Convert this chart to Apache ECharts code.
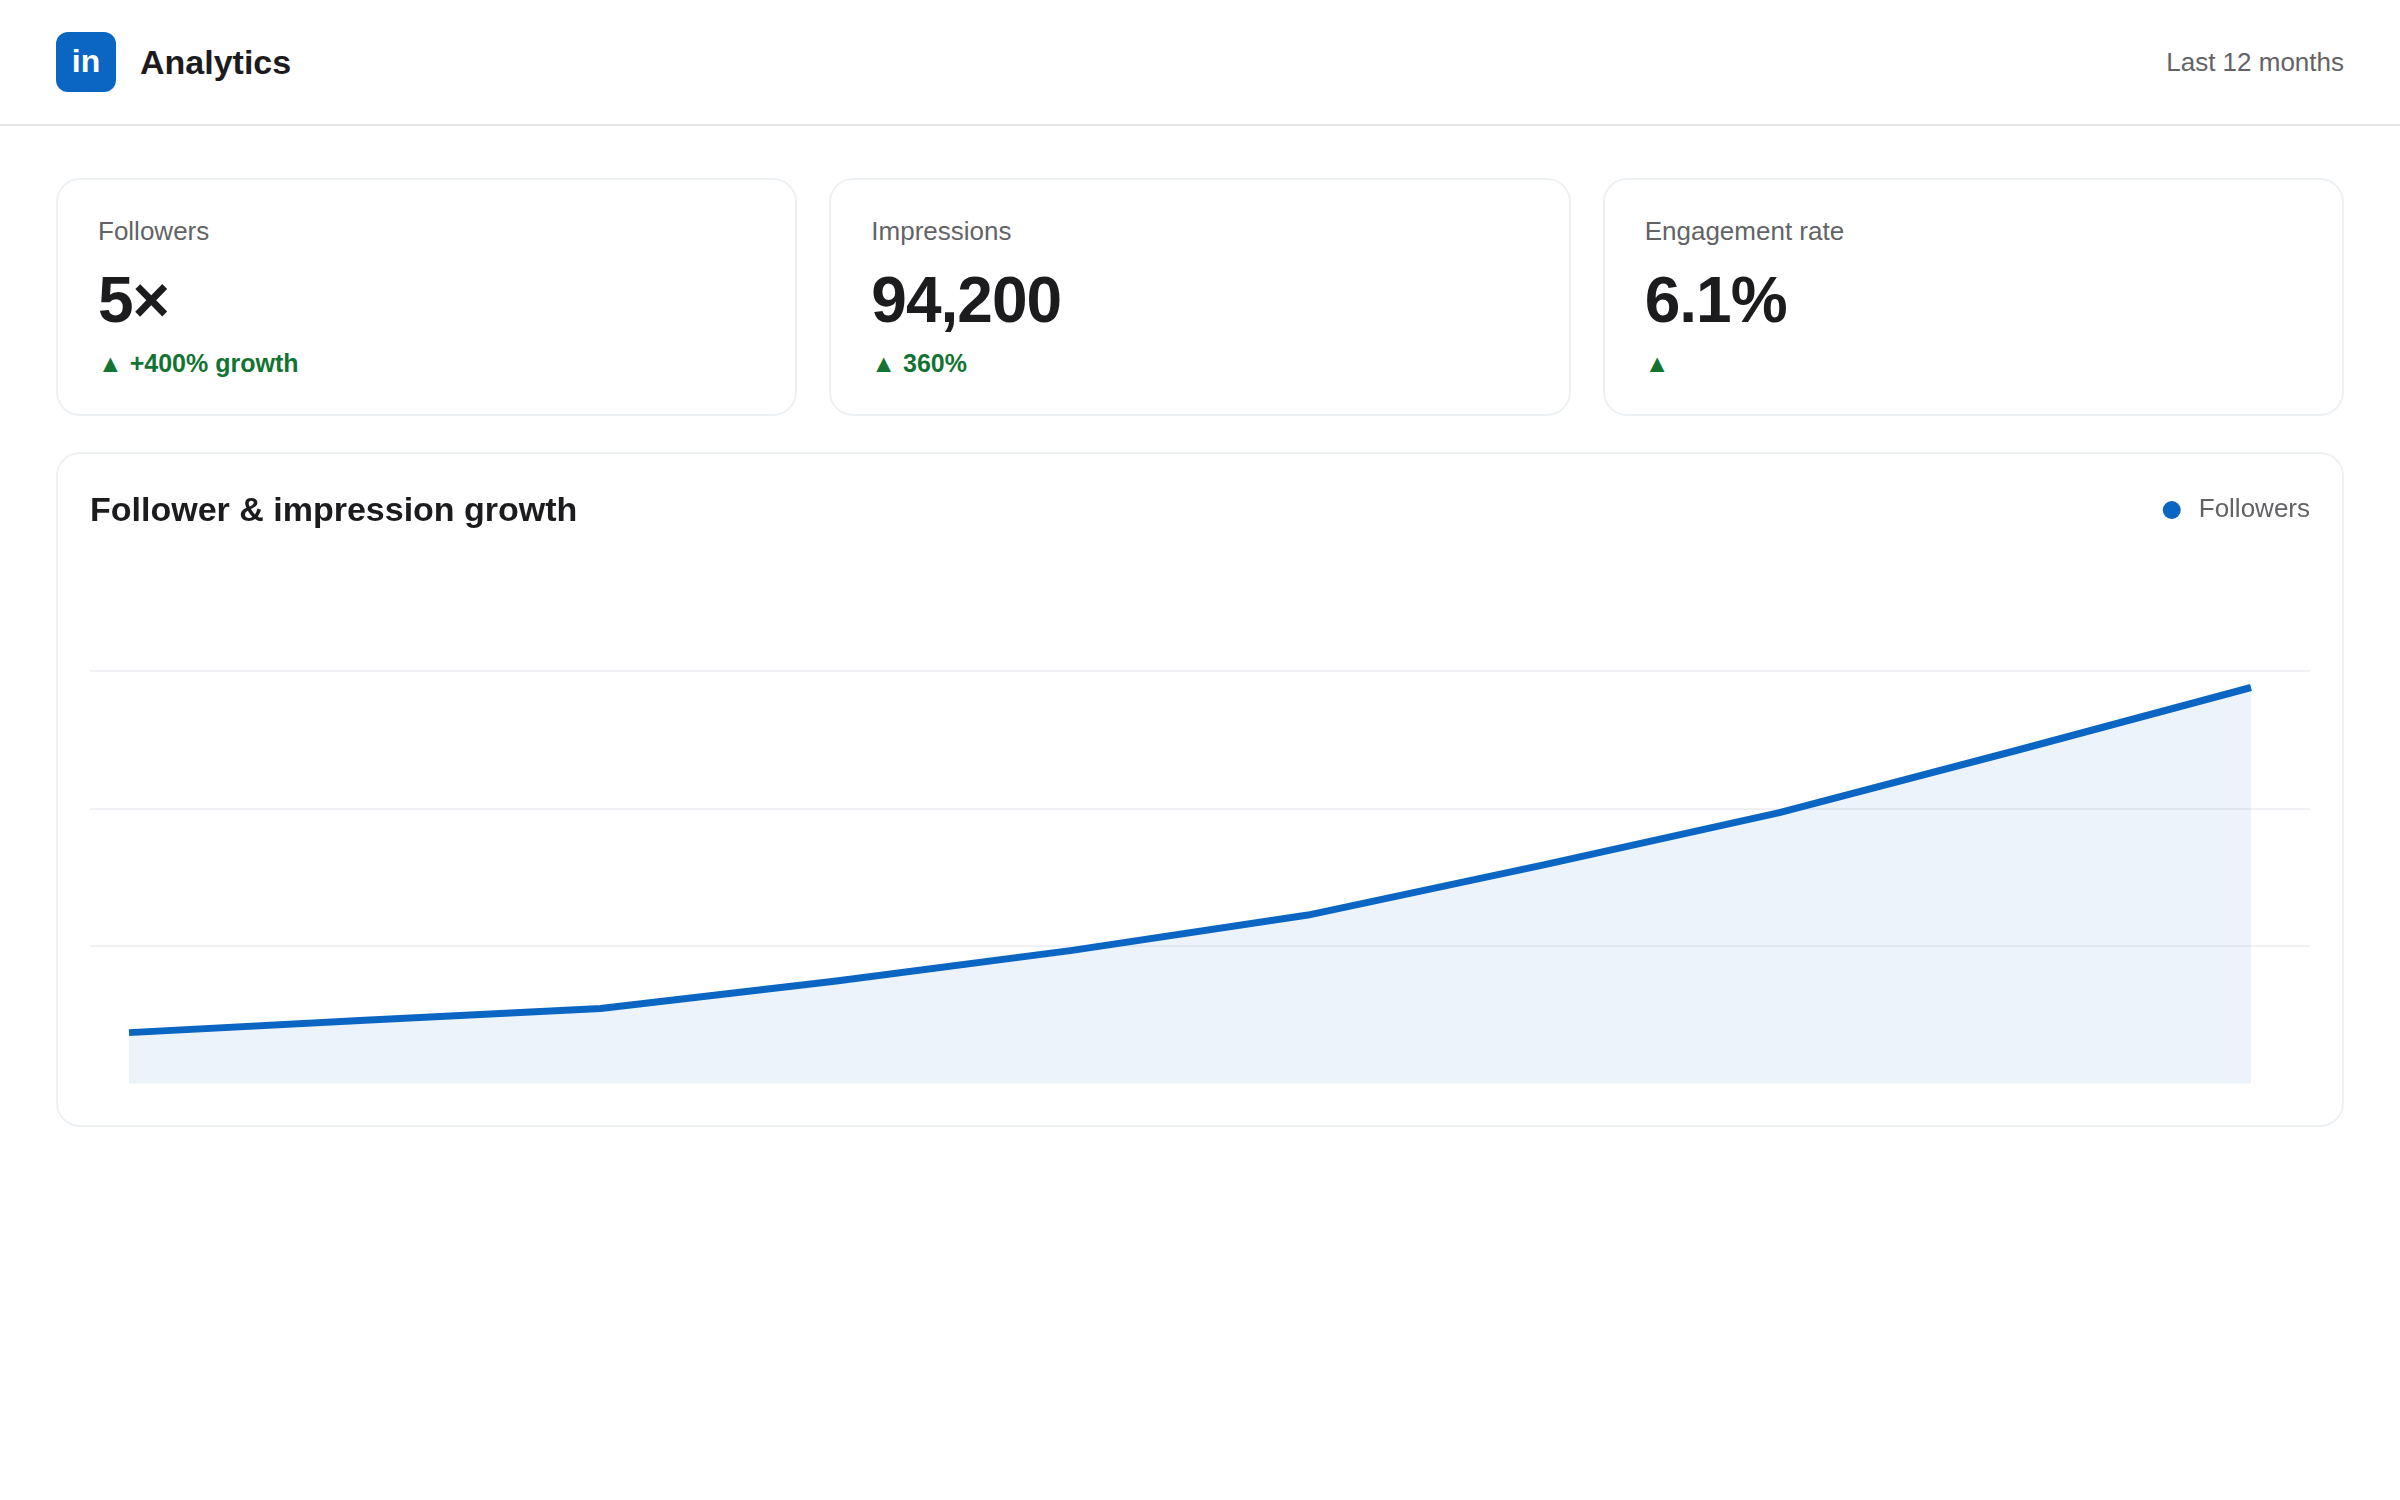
<!DOCTYPE html>
<html lang="en">
<head>
<meta charset="utf-8">
<title>Analytics</title>
<script src="https://cdn.jsdelivr.net/npm/echarts@6/dist/echarts.min.js"></script>
<style>
  * { box-sizing: border-box; margin: 0; padding: 0; }
  html, body { width: 2400px; height: 1500px; background: #fff; overflow: hidden; }
  body { font-family: "Liberation Sans", Arial, sans-serif; color: #1c1c1e; position: relative; }
  header { position: absolute; left: 0; top: 0; width: 2400px; height: 126px; border-bottom: 2px solid #e5e5ea; }
  .logo { position: absolute; left: 56px; top: 32px; width: 60px; height: 60px; border-radius: 12px;
          background: #0a66c2; color: #fff; font-weight: 700; font-size: 32px; line-height: 58px; text-align: center; }
  .brand { position: absolute; left: 140px; top: 42px; font-size: 34px; line-height: 40px; font-weight: 700; }
  .period { position: absolute; right: 56px; top: 47px; font-size: 26px; line-height: 30px; color: #636366; }
  .kpi { position: absolute; top: 178px; width: 741.33px; height: 238px; background: #fff;
         border: 2px solid #eef1f4; border-radius: 24px; }
  .kpi .label { position: absolute; left: 40px; top: 36px; font-size: 26px; line-height: 30px; color: #636366; white-space: nowrap; }
  .kpi .value { position: absolute; left: 40px; top: 85px; font-size: 64px; line-height: 70px; font-weight: 700; letter-spacing: -1px; white-space: nowrap; }
  .kpi .delta { position: absolute; left: 40px; top: 168px; font-size: 25px; line-height: 30px; font-weight: 700; color: #137333; white-space: nowrap; }
  .panel { position: absolute; left: 56px; top: 452px; width: 2288px; height: 675px; background: #fff;
           border: 2px solid #eef1f4; border-radius: 24px; }
  #chart { position: absolute; left: 0; top: 0; width: 2284px; height: 671px; }
</style>
</head>
<body>
<header>
  <div class="logo">in</div>
  <div class="brand">Analytics</div>
  <div class="period">Last 12 months</div>
</header>
<div id="kpis"></div>
<div class="panel"><div id="chart"></div></div>
<script>
// Summary cards
const kpiLabels = ['Followers', 'Impressions', 'Engagement rate'];
const kpiValues = ['5×', '94,200', '6.1%'];
const kpiDeltas = ['▲ +400% growth', '▲ 360%', '▲'];
const kpiLefts = [56, 829.33, 1602.67];

// Growth series, one point per period
const periods = [0, 1, 2, 3, 4, 5, 6, 7, 8, 9];
const followers = [37, 46, 54.5, 74.5, 96.8, 122.5, 159, 197, 242, 288];
const seriesName = 'Follower & impression growth';
const legendName = 'Followers';

const kpiRoot = document.getElementById('kpis');
kpiLabels.forEach((label, i) => {
  const card = document.createElement('div');
  card.className = 'kpi';
  card.style.left = kpiLefts[i] + 'px';
  [['label', label], ['value', kpiValues[i]], ['delta', kpiDeltas[i]]].forEach(([cls, text]) => {
    const el = document.createElement('div');
    el.className = cls;
    el.textContent = text;
    card.appendChild(el);
  });
  kpiRoot.appendChild(card);
});

const blue = '#0a66c2';
const chart = echarts.init(document.getElementById('chart'), null, { renderer: 'canvas' });
chart.setOption({
  animation: false,
  backgroundColor: 'transparent',
  textStyle: { fontFamily: '"Liberation Sans", Arial, sans-serif' },
  title: {
    text: seriesName,
    left: 32,
    top: 38,
    padding: 0,
    textStyle: { fontSize: 34, fontWeight: 700, color: '#1c1c1e', lineHeight: 40 }
  },
  legend: {
    data: [{ name: legendName, icon: 'circle' }],
    right: 32,
    top: 43,
    padding: 0,
    itemWidth: 18,
    itemHeight: 18,
    selectedMode: false,
    textStyle: { fontSize: 26, color: '#636366', padding: [3, 0, 0, 13] }
  },
  grid: { left: 32, right: 32, top: 217, height: 412.5 },
  // The plot inset is wider on the right than on the left
  xAxis: {
    type: 'value',
    min: -0.1654,
    max: 9.2502,
    axisLine: { show: false },
    axisTick: { show: false },
    axisLabel: { show: false },
    splitLine: { show: false }
  },
  yAxis: {
    type: 'value',
    min: 0,
    max: 300,
    interval: 100,
    axisLine: { show: false },
    axisTick: { show: false },
    axisLabel: { show: false },
    splitLine: { show: true, showMinLine: false, lineStyle: { color: '#f0f1f4', width: 2 } }
  },
  series: [{
    name: legendName,
    type: 'line',
    data: periods.map((p, i) => [p, followers[i]]),
    showSymbol: false,
    smooth: false,
    itemStyle: { color: blue },
    lineStyle: { color: blue, width: 7, cap: 'butt', join: 'round' },
    areaStyle: { color: blue, opacity: 0.08 }
  }]
});
</script>
</body>
</html>
